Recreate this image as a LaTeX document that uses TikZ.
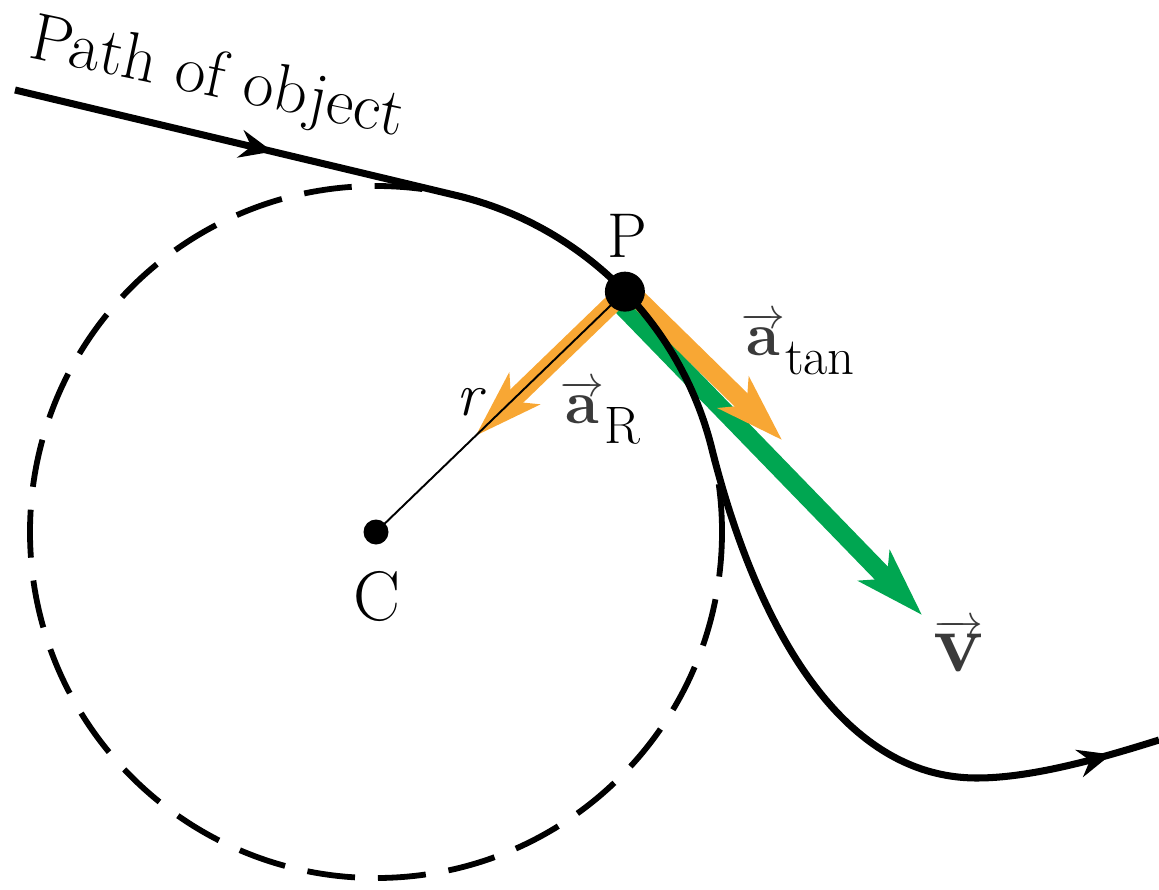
\documentclass[tikz,border=0pt]{standalone}
\usetikzlibrary{arrows.meta,calc,decorations.markings}
\definecolor{accorange}{RGB}{248,167,52}
\definecolor{velgreen}{RGB}{0,166,81}
\definecolor{labgray}{RGB}{58,58,58}

\begin{document}
\begin{tikzpicture}[x=0.02cm, y=0.02cm,
  orbit/.style={line width=4pt, postaction={decorate}, decoration={markings,
    mark=at position 5.3cm with {\arrow{Stealth[length=0.66cm,width=0.56cm,inset=0.22cm]}},
    mark=at position -1.0cm with {\arrow{Stealth[length=0.66cm,width=0.56cm,inset=0.22cm]}}}},
  circ/.style={line width=3.3pt, dash pattern=on 0.96cm off 0.46cm},
  accvec/.style={accorange, line width=10.5pt, -{Stealth[length=1.34cm,width=0.86cm,inset=0.35cm]}},
  velvec/.style={velgreen, line width=10.5pt, -{Stealth[length=1.36cm,width=0.86cm,inset=0.35cm]}},
  rline/.style={line width=1.1pt},
  ptdot/.style={circle, fill, inner sep=0pt},
  lbl/.style={inner sep=0pt, font=\fontsize{35}{40}\selectfont}
]
\useasboundingbox (0,0) rectangle (1159,-889);

\coordinate (C) at (376,-532);
\coordinate (P) at ($(C)+(44:346)$);
\coordinate (start) at (15,-90);
\coordinate (T) at ($(C)+(77:346)$);
\coordinate (low) at (977,-778);
\coordinate (end) at (1159,-740);
\coordinate (aRtip) at ($(P)!0.6!(C)$);
\coordinate (atanfoot) at ($(P)+(44:4)$);
\coordinate (atantip) at (782,-440);
\coordinate (vfoot) at ($(P)+(224:12)$);
\coordinate (vtip) at (922,-615);

\draw[velvec] (vfoot) -- (vtip);
\draw[accvec] (P) -- (aRtip);
\draw[accvec] (atanfoot) -- (atantip);
\draw[circ] (C) circle[radius=346];
\draw[orbit] (start) -- (T) arc[start angle=77, end angle=14, radius=346]
  .. controls +(-76:150) and +(-150,0) .. (low)
  .. controls +(60,0) and +(-45,-14) .. (end);
\draw[rline] (C) -- (P);
\node[ptdot, minimum size=0.8cm] (Pdot) at (P) {};
\node[ptdot, minimum size=0.5cm] (Cdot) at (C) {};

\node[lbl, font=\fontsize{38}{42}\selectfont, rotate=-12, anchor=base west] (lblpath) at (27,-57) {Path of object};
\node[lbl, font=\fontsize{36}{40}\selectfont, anchor=base] (lblP) at (627,-257) {P};
\node[lbl, font=\fontsize{40}{44}\selectfont, anchor=base] (lblC) at (377,-620) {C};
\node[lbl, anchor=base] (lblr) at (469,-415) {\itshape r};
\node[lbl, anchor=base west] (lblaR) at (560,-423)
  {{\color{labgray}$\overrightarrow{\textbf{a}}$}\raisebox{-0.4cm}{\fontsize{30}{34}\selectfont R}};
\node[lbl, anchor=base west] (lblatan) at (741,-355)
  {{\color{labgray}$\overrightarrow{\textbf{a}}$}\raisebox{-0.4cm}{\fontsize{30}{34}\selectfont tan}};
\node[lbl, font=\fontsize{48}{52}\selectfont, anchor=base west, labgray] (lblv) at (933,-671)
  {$\overrightarrow{\textbf{v}}$};
\end{tikzpicture}
\end{document}
